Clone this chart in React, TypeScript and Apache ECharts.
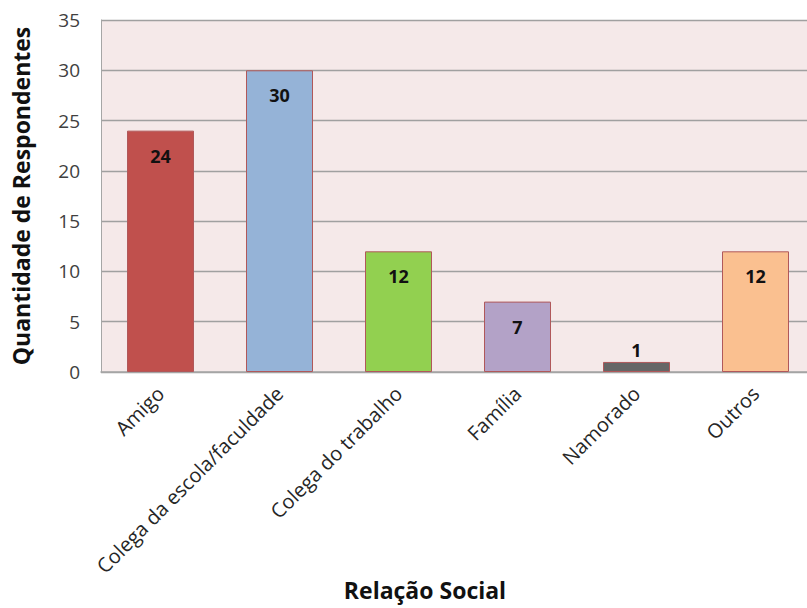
import React, { useEffect, useRef } from "react";
import * as echarts from "echarts";

// Relação social com os respondentes
const categories = [
  "Amigo",
  "Colega da escola/faculdade",
  "Colega do trabalho",
  "Família",
  "Namorado",
  "Outros",
];
const counts = [24, 30, 12, 7, 1, 12];
const barColors = ["#c0504d", "#95b3d7", "#92d050", "#b3a2c7", "#666666", "#fac090"];

const yTitle = "Quantidade de Respondentes";
const xTitle = "Relação Social";

const FONT = "'Open Sans', 'Noto Sans', sans-serif";

export default function App() {
  const ref = useRef<HTMLDivElement>(null);

  useEffect(() => {
    if (!ref.current) return;
    const chart = echarts.init(ref.current, undefined, { renderer: "svg" });
    chart.setOption({
      animation: false,
      backgroundColor: "#ffffff",
      // the plot area runs slightly past the right edge of the visible frame
      grid: { left: 101, top: 20, width: 714, height: 352, containLabel: false, show: true, backgroundColor: "#f5e9e9", borderWidth: 0 },
      xAxis: {
        type: "category",
        data: categories,
        axisLine: { show: true, lineStyle: { color: "#a6a6a6", width: 1.5 } },
        axisTick: { show: false },
        axisLabel: {
          rotate: 45,
          interval: 0,
          margin: 18,
          fontFamily: FONT,
          fontSize: 20,
          color: "#262626",
        },
      },
      yAxis: {
        type: "value",
        min: 0,
        max: 35,
        interval: 5,
        axisLine: { show: true, lineStyle: { color: "#a6a6a6", width: 1 } },
        axisTick: { show: false },
        splitLine: { show: true, lineStyle: { color: "#a0a0a0", width: 1.3 } },
        axisLabel: {
          margin: 21,
          fontFamily: FONT,
          fontSize: 19,
          color: "#404040",
        },
      },
      graphic: [
        {
          type: "text",
          x: 21,
          y: 196,
          rotation: Math.PI / 2,
          style: {
            text: yTitle,
            font: `bold 23px ${FONT}`,
            fill: "#111111",
            textAlign: "center",
            textVerticalAlign: "middle",
          },
        },
        {
          type: "text",
          x: 425,
          y: 590,
          style: {
            text: xTitle,
            font: `bold 23px ${FONT}`,
            fill: "#111111",
            textAlign: "center",
            textVerticalAlign: "middle",
          },
        },
      ],
      series: [
        {
          type: "bar",
          barWidth: 67,
          data: counts.map((v, i) => ({
            value: v,
            itemStyle: { color: barColors[i] },
            label:
              v < 3
                ? { position: "top", distance: 3 }
                : { position: "insideTop", distance: 16 },
          })),
          itemStyle: { borderColor: "#b0585a", borderWidth: 1 },
          label: {
            show: true,
            fontFamily: FONT,
            fontWeight: "bold",
            fontSize: 18,
            color: "#111111",
          },
        },
      ],
    });
    return () => chart.dispose();
  }, []);

  return (
    <div style={{ position: "absolute", left: 0, top: 0, width: 807, height: 608, overflow: "hidden" }}>
      <div ref={ref} style={{ width: 815, height: 608 }} />
    </div>
  );
}
